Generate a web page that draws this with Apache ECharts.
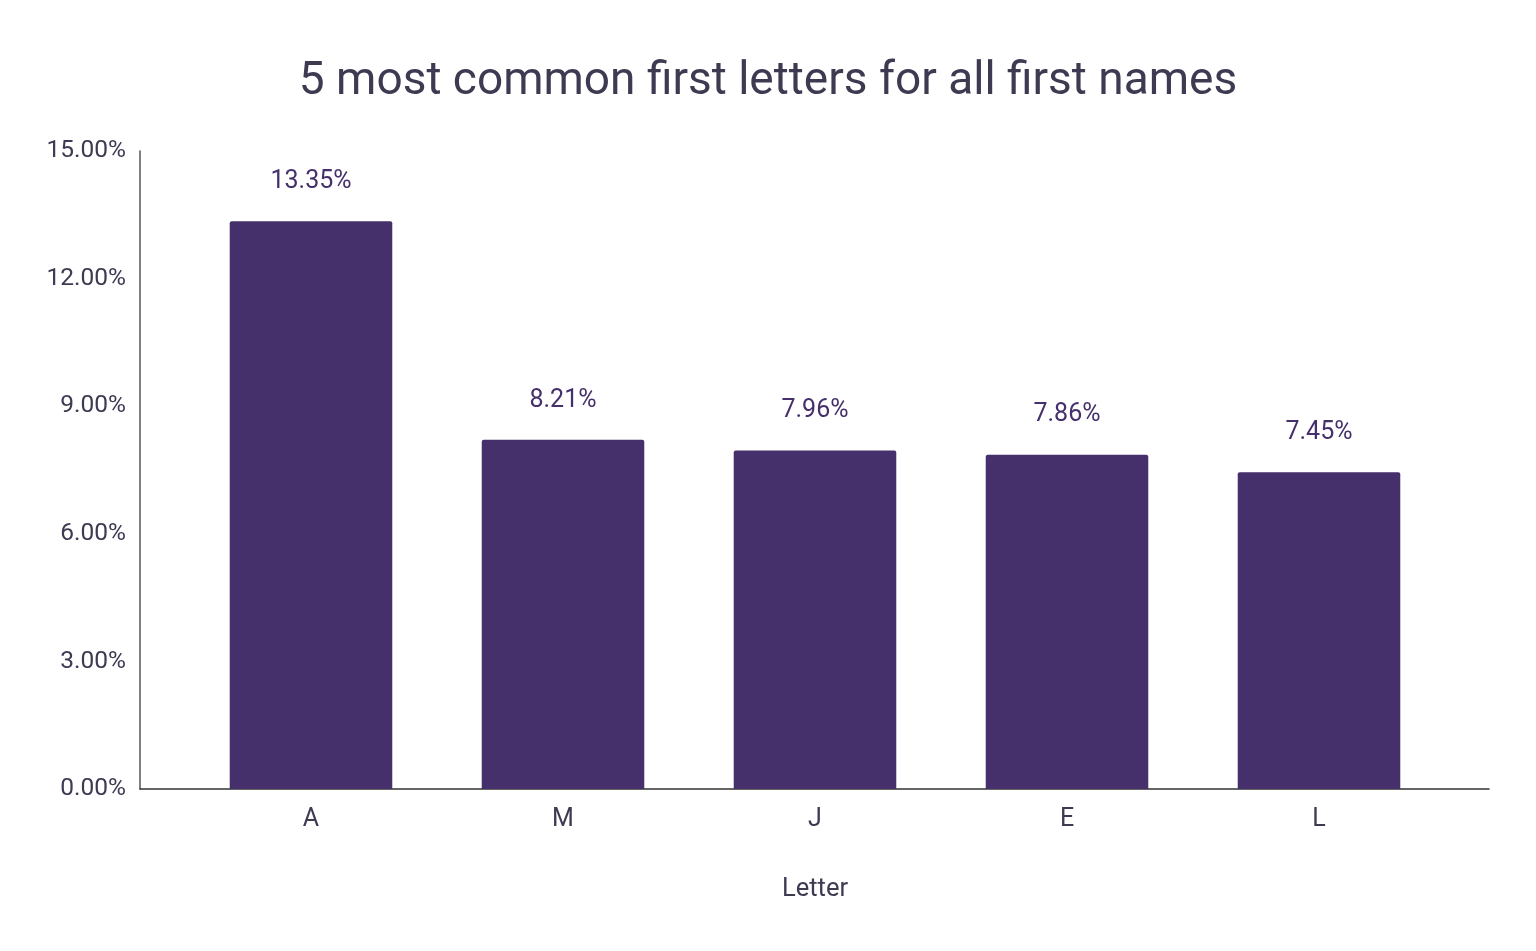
<!DOCTYPE html>
<html>
<head>
<meta charset="utf-8">
<script src="https://cdn.jsdelivr.net/npm/echarts@6/dist/echarts.min.js"></script>
<style>
  html, body { margin: 0; padding: 0; background: #fff; }
  #chart { width: 1536px; height: 951px; }
</style>
</head>
<body>
<div id="chart"></div>
<script>
const letters = ["A", "M", "J", "E", "L"];
const shares = [13.35, 8.21, 7.96, 7.86, 7.45];
const yTicks = [0, 3, 6, 9, 12, 15];

const textColor = "#3d3a52";
const barColor = "#45306b";

const chart = echarts.init(document.getElementById("chart"));

chart.setOption({
  animation: false,
  title: {
    text: "5 most common first letters for all first names",
    left: "center",
    top: 54,
    textStyle: { fontFamily: "Roboto", fontSize: 46, fontWeight: "normal", color: textColor }
  },
  // grid 0 carries the axis lines, grid 1 holds the bars inset from them
  grid: [
    { left: 140, right: 47, top: 151, bottom: 162 },
    { left: 185, right: 91, top: 151, bottom: 162 }
  ],
  xAxis: [
    {
      gridIndex: 0,
      type: "value",
      min: 0,
      max: 1,
      axisLine: { show: true, lineStyle: { color: "#333", width: 1.5 } },
      axisTick: { show: false },
      axisLabel: { show: false },
      splitLine: { show: false }
    },
    {
      gridIndex: 1,
      type: "category",
      data: letters,
      name: "Letter",
      nameLocation: "middle",
      nameGap: 88,
      nameTextStyle: { fontFamily: "Roboto", fontSize: 25.5, color: textColor },
      axisLine: { show: false },
      axisTick: { show: false },
      axisLabel: { fontFamily: "Roboto", fontSize: 25, color: textColor, margin: 18 }
    }
  ],
  yAxis: [
    {
      gridIndex: 0,
      type: "value",
      min: yTicks[0],
      max: yTicks[yTicks.length - 1],
      interval: 3,
      axisLine: { show: true, lineStyle: { color: "#555", width: 1.5 } },
      axisTick: { show: false },
      splitLine: { show: false },
      axisLabel: {
        fontFamily: "Roboto", fontSize: 24.5, color: textColor, margin: 14,
        formatter: v => v.toFixed(2) + "%"
      }
    },
    {
      gridIndex: 1,
      type: "value",
      min: yTicks[0],
      max: yTicks[yTicks.length - 1],
      interval: 3,
      show: false
    }
  ],
  series: [{
    type: "bar",
    xAxisIndex: 1,
    yAxisIndex: 1,
    data: shares,
    barWidth: "64.5%",
    itemStyle: { color: barColor, borderRadius: [2, 2, 0, 0] },
    label: {
      show: true,
      position: "top",
      distance: 27,
      fontFamily: "Roboto",
      fontSize: 25,
      color: barColor,
      formatter: p => p.value.toFixed(2) + "%"
    }
  }]
});
</script>
</body>
</html>
